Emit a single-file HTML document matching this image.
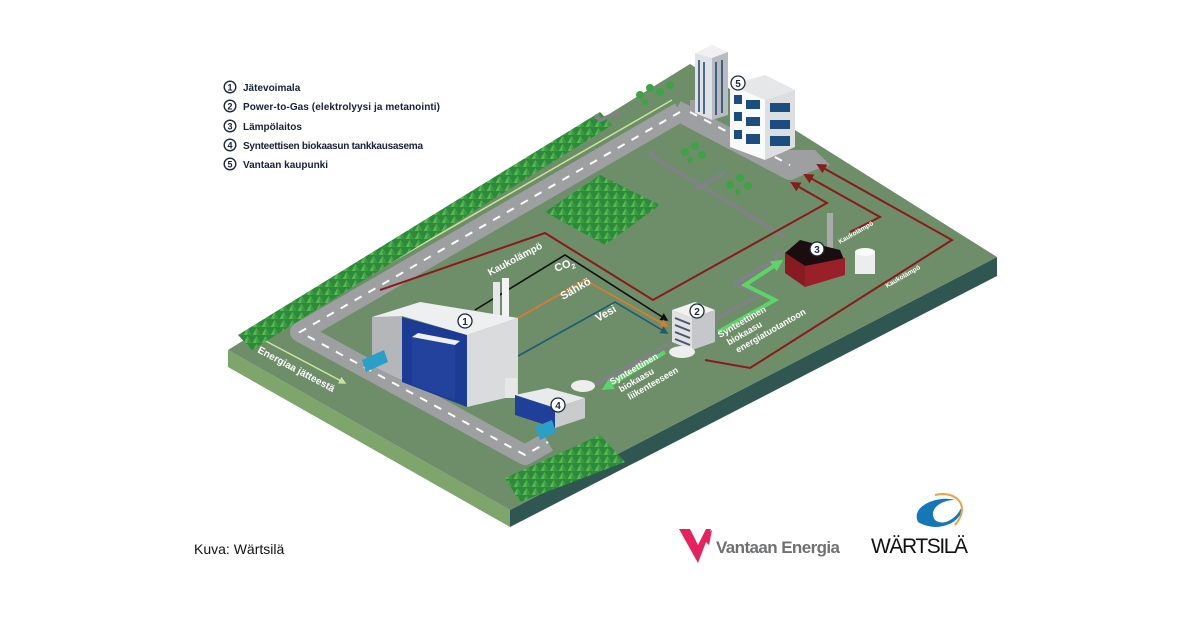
<!DOCTYPE html>
<html><head><meta charset="utf-8"><style>
html,body{margin:0;padding:0;background:#fff}
svg{display:block}
text{font-family:"Liberation Sans",sans-serif}
</style></head><body>
<svg width="1200" height="628" viewBox="0 0 1200 628" xmlns="http://www.w3.org/2000/svg">
<defs>
<pattern id="trees" width="9" height="8" patternUnits="userSpaceOnUse">
<rect width="9" height="8" fill="#2e8a3b"/>
<polygon points="4.5,0 8.5,7 0.5,7" fill="#58b852"/>
<polygon points="4.5,1 8.5,7 4.5,7" fill="#3a9a42"/>
</pattern>
<marker id="arR" markerWidth="5" markerHeight="5" refX="4" refY="2.5" orient="auto"><path d="M0,0L5,2.5L0,5z" fill="#8b1a1a"/></marker>
<marker id="arK" markerWidth="5" markerHeight="5" refX="4" refY="2.5" orient="auto"><path d="M0,0L5,2.5L0,5z" fill="#111"/></marker>
<marker id="arO" markerWidth="5" markerHeight="5" refX="4" refY="2.5" orient="auto"><path d="M0,0L5,2.5L0,5z" fill="#e07a2a"/></marker>
<marker id="arB" markerWidth="5" markerHeight="5" refX="4" refY="2.5" orient="auto"><path d="M0,0L5,2.5L0,5z" fill="#1d5a78"/></marker>
<marker id="arG" markerWidth="3" markerHeight="3" refX="2" refY="1.5" orient="auto"><path d="M0,0L3,1.5L0,3z" fill="#5ed36a"/></marker>
<marker id="arL" markerWidth="5" markerHeight="5" refX="4" refY="2.5" orient="auto"><path d="M0,0L5,2.5L0,5z" fill="#c9e59a"/></marker>
</defs>

<polygon points="228,350 510,510 510,527 228,367" fill="#7ea56c"/>
<polygon points="510,510 997,257 997,276 510,527" fill="#2f5650"/>
<polygon points="228,350 690,64 997,257 510,510" fill="#6d8e68"/>

<g fill="none" stroke="#9d9fa0" stroke-width="20" stroke-linejoin="round">
<polyline points="680,112 300,332 525,455 548,442"/>
<polyline points="676,110 790,170 812,160"/>
<polyline points="700,100 700,125"/>
</g>
<polygon points="745,150 815,150 830,165 790,178" fill="#9d9fa0"/>
<g fill="none" stroke="#fff" stroke-width="2" stroke-dasharray="8,8">
<polyline points="680,112 300,332 525,455 548,442"/>
<polyline points="690,112 790,165"/>
</g>
<polyline points="672,100 260,338 345,383" fill="none" stroke="#c9e59a" stroke-width="1.5" marker-end="url(#arL)"/>

<polygon points="238,335 600,112 612,125 252,350" fill="url(#trees)"/>
<polygon points="545,212 600,175 660,205 605,245" fill="url(#trees)"/>
<polygon points="505,478 600,435 625,462 520,502" fill="url(#trees)"/>
<g fill="#3da346">
<circle cx="640" cy="95" r="4"/><circle cx="650" cy="88" r="4"/><circle cx="660" cy="92" r="4"/><circle cx="670" cy="85" r="4"/><circle cx="645" cy="102" r="3"/>
<circle cx="685" cy="152" r="4"/><circle cx="695" cy="146" r="4"/><circle cx="702" cy="155" r="4"/><circle cx="690" cy="160" r="3"/>
<circle cx="730" cy="185" r="4"/><circle cx="740" cy="178" r="4"/><circle cx="748" cy="186" r="4"/><circle cx="738" cy="192" r="3"/>
</g>

<g fill="none" stroke="#7f8384" stroke-width="4" stroke-linejoin="round">
<polyline points="595,115 600,120 620,112"/>
<polyline points="655,150 650,155 785,237"/>
<polyline points="695,190 725,172"/>
<polyline points="585,390 760,295 735,283 775,260 780,250"/>
</g>

<polyline points="380,290 545,233 653,300 827,203 792,183" fill="none" stroke="#8b1a1a" stroke-width="2" marker-end="url(#arR)"/>
<polyline points="850,232 880,217 805,175" fill="none" stroke="#8b1a1a" stroke-width="2" marker-end="url(#arR)"/>
<polyline points="705,360 750,368 952,240 818,165" fill="none" stroke="#8b1a1a" stroke-width="2" marker-end="url(#arR)"/>
<polyline points="475,310 565,255 667,320" fill="none" stroke="#111" stroke-width="1.6" marker-end="url(#arK)"/>
<polyline points="518,318 585,280 667,326" fill="none" stroke="#e07a2a" stroke-width="1.6" marker-end="url(#arO)"/>
<polyline points="518,356 615,302 667,333" fill="none" stroke="#1d5a78" stroke-width="1.6" marker-end="url(#arB)"/>
<polyline points="665,352 605,388" fill="none" stroke="#5ed36a" stroke-width="4" marker-end="url(#arG)"/>
<polyline points="718,332 775,300 745,285 780,262" fill="none" stroke="#5ed36a" stroke-width="4" marker-end="url(#arG)"/>

<rect x="493" y="282" width="7" height="38" fill="#e6e7e8"/><rect x="502" y="278" width="7" height="40" fill="#f3f3f3"/>
<polygon points="372,317 402,312 402,380 372,366" fill="#b4b6b9"/>
<polygon points="402,317 467,335 467,407 402,382" fill="#1c3b94"/>
<polygon points="467,335 518,318 518,395 467,407" fill="#d9dbdd"/>
<polygon points="372,317 420,302 518,318 467,335 402,316" fill="#eeeff0"/>
<polygon points="412,337 455,345 455,400 412,385" fill="#23429e"/>
<polygon points="412,337 418,333 460,341 455,345" fill="#f0f0f0"/>
<rect x="505" y="378" width="12" height="20" fill="#e7e7e7"/>
<circle cx="465" cy="321" r="7" fill="#fff" stroke="#1a2a3a" stroke-width="1.3"/><text x="465" y="325" font-size="10" font-weight="bold" text-anchor="middle" fill="#1a2a3a">1</text>
<polygon points="362,360 384,350 388,362 366,372" fill="#2aa0c8"/>

<polygon points="515,395 548,388 585,398 555,408" fill="#e9eaeb"/>
<polygon points="515,395 555,408 555,428 515,415" fill="#1f3f9a"/>
<polygon points="555,408 585,398 585,418 555,428" fill="#c9cbcd"/>
<ellipse cx="583" cy="386" rx="12" ry="6" fill="#eeeeee"/>
<polygon points="535,427 552,420 556,432 540,440" fill="#2aa0c8"/>
<circle cx="558" cy="405" r="7" fill="#fff" stroke="#1a2a3a" stroke-width="1.3"/><text x="558" y="409" font-size="10" font-weight="bold" text-anchor="middle" fill="#1a2a3a">4</text>

<polygon points="672,310 695,302 715,310 692,318" fill="#f2f2f2"/>
<polygon points="672,310 692,318 692,350 672,342" fill="#dfe1e3"/>
<polygon points="692,318 715,310 715,342 692,350" fill="#c5c7ca"/>
<g stroke="#4a5370" stroke-width="2"><line x1="675" y1="318" x2="690" y2="324"/><line x1="675" y1="325" x2="690" y2="331"/><line x1="675" y1="332" x2="690" y2="338"/><line x1="675" y1="339" x2="690" y2="345"/></g>
<ellipse cx="682" cy="352" rx="13" ry="6" fill="#eeeeee"/>
<circle cx="697" cy="311" r="7" fill="#fff" stroke="#1a2a3a" stroke-width="1.3"/><text x="697" y="315" font-size="10" font-weight="bold" text-anchor="middle" fill="#1a2a3a">2</text>

<rect x="827" y="213" width="6" height="35" fill="#a8aaab"/>
<polygon points="785,253 800,240 840,250 845,262 805,266" fill="#1b0c10"/>
<polygon points="785,253 805,266 805,287 785,273" fill="#8a1a22"/>
<polygon points="805,266 845,258 845,275 805,287" fill="#9a1f28"/>
<rect x="855" y="252" width="20" height="22" fill="#eceded"/><ellipse cx="865" cy="252" rx="10" ry="4" fill="#fafafa"/>
<circle cx="817" cy="249" r="7" fill="#fff" stroke="#1a2a3a" stroke-width="1.3"/><text x="817" y="253" font-size="10" font-weight="bold" text-anchor="middle" fill="#1a2a3a">3</text>

<polygon points="695,53 712,45 728,52 712,58" fill="#f0f0f0"/>
<polygon points="695,53 712,58 712,120 695,113" fill="#dfe2e6"/>
<polygon points="712,58 728,52 728,115 712,120" fill="#b8bcc2"/>
<g stroke="#1e3f66" stroke-width="1.5">
<line x1="699" y1="60" x2="699" y2="112"/><line x1="704" y1="62" x2="704" y2="114"/><line x1="716" y1="62" x2="716" y2="115"/><line x1="722" y1="60" x2="722" y2="113"/></g>
<polygon points="730,85 765,75 795,90 765,100" fill="#e6e7e9"/>
<polygon points="730,85 765,100 765,160 730,147" fill="#fafafa"/>
<polygon points="765,100 795,90 795,147 765,160" fill="#dcdee0"/>
<g fill="#1b4e7e">
<rect x="734" y="95" width="8" height="9"/><rect x="746" y="100" width="14" height="9"/>
<rect x="734" y="112" width="8" height="9"/><rect x="746" y="117" width="14" height="9"/>
<rect x="734" y="130" width="8" height="9"/><rect x="746" y="134" width="14" height="10"/>
<rect x="770" y="103" width="20" height="9"/><rect x="770" y="120" width="20" height="9"/><rect x="770" y="136" width="20" height="10"/></g>
<circle cx="738" cy="83" r="7" fill="#fff" stroke="#1a2a3a" stroke-width="1.3"/><text x="738" y="87" font-size="10" font-weight="bold" text-anchor="middle" fill="#1a2a3a">5</text>

<g fill="#fff" font-weight="bold" font-size="10">
<text transform="translate(490,276) rotate(-28)">Kaukolämpö</text>
<text transform="translate(556,272) rotate(-20)" font-size="11">CO<tspan font-size="7" dy="3">2</tspan></text>
<text transform="translate(563,300) rotate(-30)" font-size="11">Sähkö</text>
<text transform="translate(598,322) rotate(-30)" font-size="11">Vesi</text>
<text transform="translate(257,352) rotate(28)" font-size="10">Energiaa jätteestä</text>
<text transform="translate(612,385) rotate(-30)" font-size="9"><tspan x="0" y="0">Synteettinen</tspan><tspan x="4" y="11">biokaasu</tspan><tspan x="8" y="22">liikenteeseen</tspan></text>
<text transform="translate(720,338) rotate(-30)" font-size="9"><tspan x="0" y="0">Synteettinen</tspan><tspan x="4" y="11">biokaasu</tspan><tspan x="8" y="22">energiatuotantoon</tspan></text>
<text transform="translate(840,244) rotate(-30)" font-size="6.5">Kaukolämpö</text>
<text transform="translate(887,288) rotate(-30)" font-size="6.5">Kaukolämpö</text>
</g>

<g font-size="10" fill="#14213a" font-weight="bold">
<g text-anchor="middle">
<circle cx="230" cy="87" r="5.8" fill="#fff" stroke="#1a2a3a" stroke-width="1.4"/><text x="230" y="90.5" font-size="9">1</text>
<circle cx="230" cy="106" r="5.8" fill="#fff" stroke="#1a2a3a" stroke-width="1.4"/><text x="230" y="109.5" font-size="9">2</text>
<circle cx="230" cy="126" r="5.8" fill="#fff" stroke="#1a2a3a" stroke-width="1.4"/><text x="230" y="129.5" font-size="9">3</text>
<circle cx="230" cy="145" r="5.8" fill="#fff" stroke="#1a2a3a" stroke-width="1.4"/><text x="230" y="148.5" font-size="9">4</text>
<circle cx="230" cy="164" r="5.8" fill="#fff" stroke="#1a2a3a" stroke-width="1.4"/><text x="230" y="167.5" font-size="9">5</text>
</g>
<text x="243" y="91">Jätevoimala</text>
<text x="243" y="110" textLength="197">Power-to-Gas (elektrolyysi ja metanointi)</text>
<text x="243" y="130">Lämpölaitos</text>
<text x="243" y="149" textLength="180">Synteettisen biokaasun tankkausasema</text>
<text x="243" y="168">Vantaan kaupunki</text>
</g>

<text x="194" y="554" font-size="14" fill="#111">Kuva: Wärtsilä</text>

<polygon points="679,529 690,529 698,545 706,529 711,529 698,563" fill="#e6235f"/>
<polygon points="702,538 712,530 709,545" fill="#e6235f"/>
<text x="716" y="553" font-size="17" font-weight="bold" fill="#6f7072" textLength="124">Vantaan Energia</text>

<path d="M918,522 C910,505 940,495 955,500 C940,500 928,510 935,520 C945,528 960,515 962,505 C965,520 940,535 918,522z" fill="#1478b8"/>
<path d="M935,495 C955,490 972,505 955,525" fill="none" stroke="#f0a040" stroke-width="2"/>
<text x="871" y="553" font-size="21" fill="#111" textLength="97">WÄRTSILÄ</text>
</svg>
</body></html>
